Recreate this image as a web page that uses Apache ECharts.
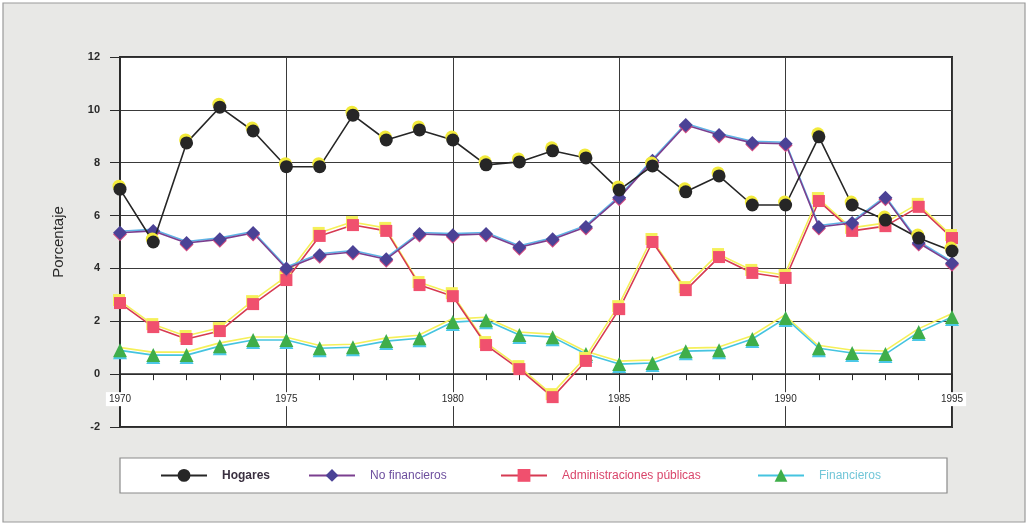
<!DOCTYPE html>
<html>
<head>
<meta charset="utf-8">
<script src="https://cdn.jsdelivr.net/npm/echarts@6/dist/echarts.min.js"></script>
<style>
  html, body { margin: 0; padding: 0; background: #ffffff; }
  #chart { width: 1031px; height: 527px; }
</style>
</head>
<body>
<div id="chart"></div>
<script>
// Years on the horizontal axis
const years = ['1970','1971','1972','1973','1974','1975','1976','1977','1978','1979',
               '1980','1981','1982','1983','1984','1985','1986','1987','1988','1989',
               '1990','1991','1992','1993','1994','1995'];

// Percentages per sector
const hogares = [7.0, 5.0, 8.75, 10.1, 9.2, 7.85, 7.85, 9.8, 8.86, 9.24,
                 8.86, 7.92, 8.03, 8.45, 8.18, 6.97, 7.88, 6.9, 7.5, 6.4,
                 6.4, 8.98, 6.4, 5.83, 5.15, 4.66];
const noFinancieros = [5.35, 5.42, 4.96, 5.1, 5.34, 4.0, 4.5, 4.62, 4.35, 5.3,
                       5.26, 5.3, 4.8, 5.1, 5.57, 6.67, 8.07, 9.43, 9.05, 8.75,
                       8.72, 5.57, 5.72, 6.67, 4.96, 4.2];
const adminPublicas = [2.69, 1.78, 1.33, 1.63, 2.65, 3.56, 5.23, 5.64, 5.42, 3.37,
                       2.95, 1.1, 0.19, -0.87, 0.5, 2.46, 5.0, 3.18, 4.43, 3.83,
                       3.64, 6.55, 5.42, 5.6, 6.33, 5.15];
const financieros = [0.9, 0.72, 0.72, 1.06, 1.29, 1.29, 0.98, 1.02, 1.25, 1.36,
                     1.97, 2.04, 1.48, 1.4, 0.76, 0.38, 0.42, 0.87, 0.9, 1.33,
                     2.12, 0.98, 0.8, 0.76, 1.59, 2.16];

const yTicks = { min: -2, max: 12, interval: 2 };

const chart = echarts.init(document.getElementById('chart'), null, { renderer: 'canvas' });

function legendAt(left, name, color, bold) {
  return {
    left: left, top: 464, itemWidth: 46, itemHeight: 16, itemGap: 0,
    selectedMode: false,
    data: [{ name: name, textStyle: { color: color, fontWeight: bold ? 'bold' : 'normal' } }],
    textStyle: { fontFamily: 'Liberation Sans', fontSize: 12, padding: [0, 0, 0, 10] }
  };
}

// Grid geometry: the year labels sit just under the zero line
const gridTop = 57, gridBottom = 100, chartH = 527;
const plotH = chartH - gridTop - gridBottom;
const zeroOffset = plotH * (0 - yTicks.min) / (yTicks.max - yTicks.min);

const option = {
  backgroundColor: '#ffffff',
  animation: false,
  graphic: [
    { type: 'rect', z: -10, shape: { x: 3, y: 3, width: 1022, height: 519 },
      style: { fill: '#e8e8e6', stroke: '#9a9a9a', lineWidth: 1.2 } },
    { type: 'rect', z: -5, shape: { x: 120, y: 458, width: 827, height: 35 },
      style: { fill: '#ffffff', stroke: '#8a8a8a', lineWidth: 1.2 } }
  ],
  grid: {
    left: 120, right: 79, top: gridTop, bottom: gridBottom,
    show: true, backgroundColor: '#ffffff', borderColor: '#2a2a2a', borderWidth: 2
  },
  legend: [
    legendAt(155, 'Hogares', '#3a3040', true),
    legendAt(303, 'No financieros', '#6d4f9e', false),
    legendAt(495, 'Administraciones públicas', '#d9456a', false),
    legendAt(752, 'Financieros', '#72c6d8', false)
  ],
  xAxis: [
    {
      type: 'category', data: years, boundaryGap: false,
      axisLine: { onZero: true, lineStyle: { color: '#2a2a2a', width: 1.5 } },
      axisTick: { show: true, interval: 0, length: 6, inside: false, lineStyle: { color: '#2a2a2a' } },
      axisLabel: { show: false },
      splitLine: { show: true, interval: 4, lineStyle: { color: '#3a3a3a', width: 1 } }
    },
    {
      type: 'category', data: years, boundaryGap: false, position: 'bottom',
      offset: -zeroOffset,
      axisLine: { show: false, onZero: false },
      axisTick: { show: false },
      splitLine: { show: false },
      axisLabel: {
        interval: 4, margin: 18, color: '#2a2a2a', fontSize: 10,
        fontFamily: 'Liberation Sans', backgroundColor: '#ffffff', padding: [2, 3]
      }
    }
  ],
  yAxis: {
    type: 'value', min: yTicks.min, max: yTicks.max, interval: yTicks.interval,
    name: 'Porcentaje', nameLocation: 'middle', nameGap: 54, nameRotate: 90,
    nameTextStyle: { color: '#2a2a2a', fontSize: 15, fontFamily: 'Liberation Sans' },
    axisLine: { show: true, lineStyle: { color: '#2a2a2a', width: 1.5 } },
    axisTick: { show: true, length: 10, lineStyle: { color: '#2a2a2a' } },
    axisLabel: { color: '#2a2a2a', fontSize: 11, fontWeight: 'bold', margin: 20, fontFamily: 'Liberation Sans' },
    splitLine: { show: true, lineStyle: { color: '#3a3a3a', width: 1 } }
  },
  series: [
    {
      name: 'Financieros', type: 'line', data: financieros, z: 2,
      symbol: 'triangle', symbolSize: 14, showAllSymbol: true,
      lineStyle: { color: '#45c4e0', width: 1.6, shadowColor: '#f5f05a', shadowOffsetY: -3, shadowOffsetX: -1 },
      itemStyle: { color: '#3fae4a', shadowColor: '#4cc8e6', shadowOffsetY: 2 }
    },
    {
      name: 'Administraciones públicas', type: 'line', data: adminPublicas, z: 3,
      symbol: 'rect', symbolSize: 12, showAllSymbol: true,
      lineStyle: { color: '#d63a52', width: 1.6, shadowColor: '#f5f05a', shadowOffsetY: -3, shadowOffsetX: -1 },
      itemStyle: { color: '#f0506e', shadowColor: '#f5f05a', shadowOffsetY: -3, shadowOffsetX: -1 }
    },
    {
      name: 'No financieros', type: 'line', data: noFinancieros, z: 4,
      symbol: 'diamond', symbolSize: 14, showAllSymbol: true,
      lineStyle: { color: '#7b3f8f', width: 1.6, shadowColor: '#5fb4e6', shadowOffsetY: -1.5 },
      itemStyle: { color: '#4b4296', shadowColor: '#d04a80', shadowOffsetY: 1.5 }
    },
    {
      name: 'Hogares', type: 'line', data: hogares, z: 5,
      symbol: 'circle', symbolSize: 13, showAllSymbol: true,
      lineStyle: { color: '#262626', width: 1.6 },
      itemStyle: { color: '#262626', shadowColor: '#f2ea3a', shadowOffsetY: -3, shadowOffsetX: -1 }
    }
  ]
};

chart.setOption(option);
</script>
</body>
</html>
